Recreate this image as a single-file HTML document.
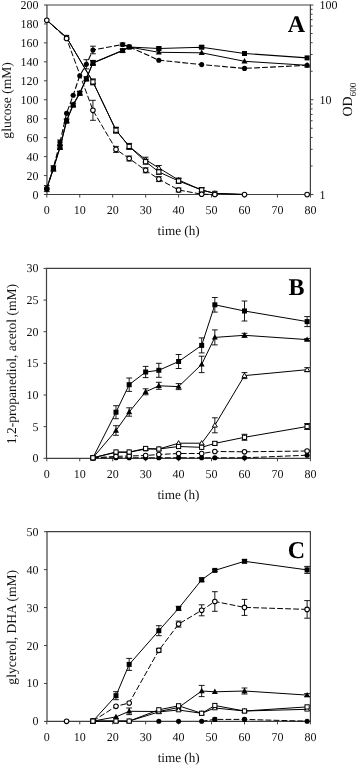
<!DOCTYPE html>
<html><head><meta charset="utf-8"><title>Figure</title>
<style>
html,body{margin:0;padding:0;background:#fff;}
svg{display:block;will-change:transform;}
text{font-family:"Liberation Serif",serif;fill:#111;text-rendering:geometricPrecision;}
.tk{font-size:12px;}
.al{font-size:13.55px;}
.lt{font-size:24px;font-weight:bold;fill:#000;}
</style></head>
<body>
<svg width="358" height="766" viewBox="0 0 358 766">
<rect width="358" height="766" fill="#fff"/>
<path d="M46.35 5H310.4V194.5H46.95V5" fill="none" stroke="#404040" stroke-width="1.2"/>
<path d="M46.8 194.5v3" stroke="#404040" stroke-width="1"/>
<text x="46.8" y="213.8" text-anchor="middle" class="tk">0</text>
<path d="M79.75 194.5v3" stroke="#404040" stroke-width="1"/>
<text x="79.75" y="213.8" text-anchor="middle" class="tk">10</text>
<path d="M112.7 194.5v3" stroke="#404040" stroke-width="1"/>
<text x="112.7" y="213.8" text-anchor="middle" class="tk">20</text>
<path d="M145.65 194.5v3" stroke="#404040" stroke-width="1"/>
<text x="145.65" y="213.8" text-anchor="middle" class="tk">30</text>
<path d="M178.6 194.5v3" stroke="#404040" stroke-width="1"/>
<text x="178.6" y="213.8" text-anchor="middle" class="tk">40</text>
<path d="M211.55 194.5v3" stroke="#404040" stroke-width="1"/>
<text x="211.55" y="213.8" text-anchor="middle" class="tk">50</text>
<path d="M244.5 194.5v3" stroke="#404040" stroke-width="1"/>
<text x="244.5" y="213.8" text-anchor="middle" class="tk">60</text>
<path d="M277.45 194.5v3" stroke="#404040" stroke-width="1"/>
<text x="277.45" y="213.8" text-anchor="middle" class="tk">70</text>
<path d="M310.4 194.5v3" stroke="#404040" stroke-width="1"/>
<text x="310.4" y="213.8" text-anchor="middle" class="tk">80</text>
<path d="M46.95 194.5h-3" stroke="#404040" stroke-width="1"/>
<text x="38.599999999999994" y="198.5" text-anchor="end" class="tk">0</text>
<path d="M46.95 175.55h-3" stroke="#404040" stroke-width="1"/>
<text x="38.599999999999994" y="179.55" text-anchor="end" class="tk">20</text>
<path d="M46.95 156.6h-3" stroke="#404040" stroke-width="1"/>
<text x="38.599999999999994" y="160.6" text-anchor="end" class="tk">40</text>
<path d="M46.95 137.65h-3" stroke="#404040" stroke-width="1"/>
<text x="38.599999999999994" y="141.65" text-anchor="end" class="tk">60</text>
<path d="M46.95 118.7h-3" stroke="#404040" stroke-width="1"/>
<text x="38.599999999999994" y="122.7" text-anchor="end" class="tk">80</text>
<path d="M46.95 99.75h-3" stroke="#404040" stroke-width="1"/>
<text x="38.599999999999994" y="103.75" text-anchor="end" class="tk">100</text>
<path d="M46.95 80.8h-3" stroke="#404040" stroke-width="1"/>
<text x="38.599999999999994" y="84.8" text-anchor="end" class="tk">120</text>
<path d="M46.95 61.849999999999994h-3" stroke="#404040" stroke-width="1"/>
<text x="38.599999999999994" y="65.85" text-anchor="end" class="tk">140</text>
<path d="M46.95 42.900000000000006h-3" stroke="#404040" stroke-width="1"/>
<text x="38.599999999999994" y="46.900000000000006" text-anchor="end" class="tk">160</text>
<path d="M46.95 23.94999999999999h-3" stroke="#404040" stroke-width="1"/>
<text x="38.599999999999994" y="27.94999999999999" text-anchor="end" class="tk">180</text>
<path d="M46.95 5.0h-3" stroke="#404040" stroke-width="1"/>
<text x="38.599999999999994" y="9.0" text-anchor="end" class="tk">200</text>
<path d="M310.4 194.5h3" stroke="#404040" stroke-width="1"/>
<text x="319.4" y="198.5" text-anchor="start" class="tk">1</text>
<path d="M310.4 99.75h3" stroke="#404040" stroke-width="1"/>
<text x="319.4" y="103.75" text-anchor="start" class="tk">10</text>
<path d="M310.4 5h3" stroke="#404040" stroke-width="1"/>
<text x="319.4" y="9" text-anchor="start" class="tk">100</text>
<path d="M310.4 165.98h2.2" stroke="#404040" stroke-width="1"/>
<path d="M310.4 149.29h2.2" stroke="#404040" stroke-width="1"/>
<path d="M310.4 137.45h2.2" stroke="#404040" stroke-width="1"/>
<path d="M310.4 128.27h2.2" stroke="#404040" stroke-width="1"/>
<path d="M310.4 120.77h2.2" stroke="#404040" stroke-width="1"/>
<path d="M310.4 114.43h2.2" stroke="#404040" stroke-width="1"/>
<path d="M310.4 108.93h2.2" stroke="#404040" stroke-width="1"/>
<path d="M310.4 104.09h2.2" stroke="#404040" stroke-width="1"/>
<path d="M310.4 71.23h2.2" stroke="#404040" stroke-width="1"/>
<path d="M310.4 54.54h2.2" stroke="#404040" stroke-width="1"/>
<path d="M310.4 42.70h2.2" stroke="#404040" stroke-width="1"/>
<path d="M310.4 33.52h2.2" stroke="#404040" stroke-width="1"/>
<path d="M310.4 26.02h2.2" stroke="#404040" stroke-width="1"/>
<path d="M310.4 19.68h2.2" stroke="#404040" stroke-width="1"/>
<path d="M310.4 14.18h2.2" stroke="#404040" stroke-width="1"/>
<path d="M310.4 9.34h2.2" stroke="#404040" stroke-width="1"/>
<text transform="translate(10.7 100.45) rotate(-90)" text-anchor="middle" class="al">glucose (mM)</text>
<text x="178.67499999999998" y="235.1" text-anchor="middle" class="al" style="font-size:13.2px">time (h)</text>
<text x="296.5" y="31.5" text-anchor="middle" class="lt">A</text>
<text transform="translate(351.8 99.6) rotate(-90)" text-anchor="middle" class="al" style="font-size:14px">OD<tspan dy="4" style="font-size:9.2px">600</tspan></text>
<polyline points="46.8,20.2 66.57,37.5 92.93,81.9 115.99,130.2 129.18,146.4 145.65,159.7 158.83,168 178.6,180 201.67,190 214.84,193.4 244.5,194.5" fill="none" stroke="#000" stroke-width="1.0"/>
<path d="M92.93 79.9V83.9M90.03 79.9H95.83000000000001M90.03 83.9H95.83000000000001" stroke="#000" stroke-width="0.9" fill="none"/>
<path d="M115.99 127.69999999999999V132.7M113.08999999999999 127.69999999999999H118.89M113.08999999999999 132.7H118.89" stroke="#000" stroke-width="0.9" fill="none"/>
<path d="M129.18 143.9V148.9M126.28 143.9H132.08M126.28 148.9H132.08" stroke="#000" stroke-width="0.9" fill="none"/>
<path d="M145.65 157.2V162.2M142.75 157.2H148.55M142.75 162.2H148.55" stroke="#000" stroke-width="0.9" fill="none"/>
<path d="M158.83 165.5V170.5M155.93 165.5H161.73000000000002M155.93 170.5H161.73000000000002" stroke="#000" stroke-width="0.9" fill="none"/>
<path d="M178.6 178V182M175.7 178H181.5M175.7 182H181.5" stroke="#000" stroke-width="0.9" fill="none"/>
<path d="M201.67 188V192M198.76999999999998 188H204.57M198.76999999999998 192H204.57" stroke="#000" stroke-width="0.9" fill="none"/>
<path d="M66.57 34.90L69.07 39.30H64.07Z" fill="#fff" stroke="#000" stroke-width="0.95"/>
<path d="M92.93 79.30L95.43 83.70H90.43Z" fill="#fff" stroke="#000" stroke-width="0.95"/>
<path d="M115.99 127.60L118.49 132.00H113.49Z" fill="#fff" stroke="#000" stroke-width="0.95"/>
<path d="M129.18 143.80L131.68 148.20H126.68Z" fill="#fff" stroke="#000" stroke-width="0.95"/>
<path d="M145.65 157.10L148.15 161.50H143.15Z" fill="#fff" stroke="#000" stroke-width="0.95"/>
<path d="M158.83 165.40L161.33 169.80H156.33Z" fill="#fff" stroke="#000" stroke-width="0.95"/>
<path d="M178.6 177.40L181.10 181.80H176.10Z" fill="#fff" stroke="#000" stroke-width="0.95"/>
<path d="M201.67 187.40L204.17 191.80H199.17Z" fill="#fff" stroke="#000" stroke-width="0.95"/>
<path d="M214.84 190.80L217.34 195.20H212.34Z" fill="#fff" stroke="#000" stroke-width="0.95"/>
<polyline points="46.8,20.2 66.57,37.5 92.93,81.9 115.99,130.2 129.18,146.4 145.65,161.7 158.83,171.9 178.6,181 201.67,190 214.84,193.4 244.5,194.5" fill="none" stroke="#000" stroke-width="1.0"/>
<path d="M92.93 78.9V84.9M90.03 78.9H95.83000000000001M90.03 84.9H95.83000000000001" stroke="#000" stroke-width="0.9" fill="none"/>
<path d="M115.99 127.19999999999999V133.2M113.08999999999999 127.19999999999999H118.89M113.08999999999999 133.2H118.89" stroke="#000" stroke-width="0.9" fill="none"/>
<path d="M129.18 143.4V149.4M126.28 143.4H132.08M126.28 149.4H132.08" stroke="#000" stroke-width="0.9" fill="none"/>
<path d="M145.65 159.2V164.2M142.75 159.2H148.55M142.75 164.2H148.55" stroke="#000" stroke-width="0.9" fill="none"/>
<path d="M158.83 169.4V174.4M155.93 169.4H161.73000000000002M155.93 174.4H161.73000000000002" stroke="#000" stroke-width="0.9" fill="none"/>
<path d="M178.6 178.5V183.5M175.7 178.5H181.5M175.7 183.5H181.5" stroke="#000" stroke-width="0.9" fill="none"/>
<path d="M201.67 187.5V192.5M198.76999999999998 187.5H204.57M198.76999999999998 192.5H204.57" stroke="#000" stroke-width="0.9" fill="none"/>
<rect x="64.47" y="35.40" width="4.20" height="4.20" fill="#fff" stroke="#000" stroke-width="1"/>
<rect x="90.83" y="79.80" width="4.20" height="4.20" fill="#fff" stroke="#000" stroke-width="1"/>
<rect x="113.89" y="128.10" width="4.20" height="4.20" fill="#fff" stroke="#000" stroke-width="1"/>
<rect x="127.08" y="144.30" width="4.20" height="4.20" fill="#fff" stroke="#000" stroke-width="1"/>
<rect x="143.55" y="159.60" width="4.20" height="4.20" fill="#fff" stroke="#000" stroke-width="1"/>
<rect x="156.73" y="169.80" width="4.20" height="4.20" fill="#fff" stroke="#000" stroke-width="1"/>
<rect x="176.50" y="178.90" width="4.20" height="4.20" fill="#fff" stroke="#000" stroke-width="1"/>
<rect x="199.57" y="187.90" width="4.20" height="4.20" fill="#fff" stroke="#000" stroke-width="1"/>
<rect x="212.74" y="191.30" width="4.20" height="4.20" fill="#fff" stroke="#000" stroke-width="1"/>
<polyline points="46.8,20.2 66.57,38.5 92.93,110.3 115.99,149.4 129.18,158.5 145.65,170.3 158.83,179.1 178.6,190 201.67,194.2 214.84,194.5" fill="none" stroke="#000" stroke-width="1.0" stroke-dasharray="5.8 2.2"/>
<path d="M92.93 100.3V120.3M90.03 100.3H95.83000000000001M90.03 120.3H95.83000000000001" stroke="#000" stroke-width="0.9" fill="none"/>
<path d="M115.99 146.4V152.4M113.08999999999999 146.4H118.89M113.08999999999999 152.4H118.89" stroke="#000" stroke-width="0.9" fill="none"/>
<path d="M129.18 156.0V161.0M126.28 156.0H132.08M126.28 161.0H132.08" stroke="#000" stroke-width="0.9" fill="none"/>
<path d="M145.65 167.8V172.8M142.75 167.8H148.55M142.75 172.8H148.55" stroke="#000" stroke-width="0.9" fill="none"/>
<path d="M158.83 176.6V181.6M155.93 176.6H161.73000000000002M155.93 181.6H161.73000000000002" stroke="#000" stroke-width="0.9" fill="none"/>
<path d="M178.6 188V192M175.7 188H181.5M175.7 192H181.5" stroke="#000" stroke-width="0.9" fill="none"/>
<circle cx="46.8" cy="20.2" r="2.30" fill="#fff" stroke="#000" stroke-width="1.05"/>
<circle cx="66.57" cy="38.5" r="2.30" fill="#fff" stroke="#000" stroke-width="1.05"/>
<circle cx="92.93" cy="110.3" r="2.30" fill="#fff" stroke="#000" stroke-width="1.05"/>
<circle cx="115.99" cy="149.4" r="2.30" fill="#fff" stroke="#000" stroke-width="1.05"/>
<circle cx="129.18" cy="158.5" r="2.30" fill="#fff" stroke="#000" stroke-width="1.05"/>
<circle cx="145.65" cy="170.3" r="2.30" fill="#fff" stroke="#000" stroke-width="1.05"/>
<circle cx="158.83" cy="179.1" r="2.30" fill="#fff" stroke="#000" stroke-width="1.05"/>
<circle cx="178.6" cy="190" r="2.30" fill="#fff" stroke="#000" stroke-width="1.05"/>
<circle cx="201.67" cy="194.2" r="2.30" fill="#fff" stroke="#000" stroke-width="1.05"/>
<circle cx="214.84" cy="194.5" r="2.30" fill="#fff" stroke="#000" stroke-width="1.05"/>
<circle cx="244.5" cy="194.6" r="2.30" fill="#fff" stroke="#000" stroke-width="1.05"/>
<circle cx="307.11" cy="194.6" r="2.30" fill="#fff" stroke="#000" stroke-width="1.05"/>
<polyline points="46.8,188.3 53.39,168.3 59.98,147 66.57,120.5 73.16,104.5 79.75,93 86.34,78.5 92.93,62.9 122.58,50.6 129.18,47 158.83,52.3 201.67,52.8 244.5,61.3 307.11,65.3" fill="none" stroke="#000" stroke-width="1.0"/>
<path d="M92.93 60.9V64.9M90.03 60.9H95.83000000000001M90.03 64.9H95.83000000000001" stroke="#000" stroke-width="0.9" fill="none"/>
<path d="M53.39 165.10L56.39 170.50H50.39Z" fill="#000"/>
<path d="M59.98 143.80L62.98 149.20H56.98Z" fill="#000"/>
<path d="M66.57 117.30L69.57 122.70H63.57Z" fill="#000"/>
<path d="M73.16 101.30L76.16 106.70H70.16Z" fill="#000"/>
<path d="M79.75 89.80L82.75 95.20H76.75Z" fill="#000"/>
<path d="M86.34 75.30L89.34 80.70H83.34Z" fill="#000"/>
<path d="M92.93 59.70L95.93 65.10H89.93Z" fill="#000"/>
<path d="M122.58 47.40L125.58 52.80H119.58Z" fill="#000"/>
<path d="M129.18 43.80L132.18 49.20H126.18Z" fill="#000"/>
<path d="M158.83 49.10L161.83 54.50H155.83Z" fill="#000"/>
<path d="M201.67 49.60L204.67 55.00H198.67Z" fill="#000"/>
<path d="M244.5 58.10L247.50 63.50H241.50Z" fill="#000"/>
<path d="M307.11 62.10L310.11 67.50H304.11Z" fill="#000"/>
<polyline points="46.8,188.3 53.39,168.5 59.98,147.5 66.57,121 73.16,105 79.75,93.3 86.34,78.9 92.93,62.9 122.58,50.6 129.18,47 158.83,48.5 201.67,47.2 244.5,53.5 307.11,57.9" fill="none" stroke="#000" stroke-width="1.1"/>
<path d="M53.39 165.7V171.3M50.49 165.7H56.29M50.49 171.3H56.29" stroke="#000" stroke-width="0.9" fill="none"/>
<path d="M59.98 145.5V149.5M57.08 145.5H62.879999999999995M57.08 149.5H62.879999999999995" stroke="#000" stroke-width="0.9" fill="none"/>
<path d="M66.57 119V123M63.669999999999995 119H69.47M63.669999999999995 123H69.47" stroke="#000" stroke-width="0.9" fill="none"/>
<path d="M73.16 103V107M70.25999999999999 103H76.06M70.25999999999999 107H76.06" stroke="#000" stroke-width="0.9" fill="none"/>
<path d="M79.75 91.3V95.3M76.85 91.3H82.65M76.85 95.3H82.65" stroke="#000" stroke-width="0.9" fill="none"/>
<path d="M86.34 76.9V80.9M83.44 76.9H89.24000000000001M83.44 80.9H89.24000000000001" stroke="#000" stroke-width="0.9" fill="none"/>
<path d="M92.93 60.4V65.4M90.03 60.4H95.83000000000001M90.03 65.4H95.83000000000001" stroke="#000" stroke-width="0.9" fill="none"/>
<path d="M122.58 49.1V52.1M119.67999999999999 49.1H125.48M119.67999999999999 52.1H125.48" stroke="#000" stroke-width="0.9" fill="none"/>
<path d="M158.83 47.0V50.0M155.93 47.0H161.73000000000002M155.93 50.0H161.73000000000002" stroke="#000" stroke-width="0.9" fill="none"/>
<path d="M201.67 45.7V48.7M198.76999999999998 45.7H204.57M198.76999999999998 48.7H204.57" stroke="#000" stroke-width="0.9" fill="none"/>
<rect x="50.89" y="166.00" width="5.00" height="5.00" fill="#000"/>
<rect x="57.48" y="145.00" width="5.00" height="5.00" fill="#000"/>
<rect x="64.07" y="118.50" width="5.00" height="5.00" fill="#000"/>
<rect x="70.66" y="102.50" width="5.00" height="5.00" fill="#000"/>
<rect x="77.25" y="90.80" width="5.00" height="5.00" fill="#000"/>
<rect x="83.84" y="76.40" width="5.00" height="5.00" fill="#000"/>
<rect x="90.43" y="60.40" width="5.00" height="5.00" fill="#000"/>
<rect x="120.08" y="48.10" width="5.00" height="5.00" fill="#000"/>
<rect x="126.68" y="44.50" width="5.00" height="5.00" fill="#000"/>
<rect x="156.33" y="46.00" width="5.00" height="5.00" fill="#000"/>
<rect x="199.17" y="44.70" width="5.00" height="5.00" fill="#000"/>
<rect x="242.00" y="51.00" width="5.00" height="5.00" fill="#000"/>
<rect x="304.61" y="55.40" width="5.00" height="5.00" fill="#000"/>
<polyline points="46.8,188.6 53.39,168 59.98,142.3 66.57,113.3 73.16,95.3 79.75,75.7 86.34,64.3 92.93,50 122.58,44.5 129.18,46.8 158.83,60.2 201.67,64.6 244.5,68.4 307.11,65.3" fill="none" stroke="#000" stroke-width="1.1" stroke-dasharray="5.8 2.2"/>
<path d="M46.8 185.6V191.6M43.9 185.6H49.699999999999996M43.9 191.6H49.699999999999996" stroke="#000" stroke-width="0.9" fill="none"/>
<path d="M59.98 140.0V144.60000000000002M57.08 140.0H62.879999999999995M57.08 144.60000000000002H62.879999999999995" stroke="#000" stroke-width="0.9" fill="none"/>
<path d="M86.34 59.699999999999996V68.89999999999999M83.44 59.699999999999996H89.24000000000001M83.44 68.89999999999999H89.24000000000001" stroke="#000" stroke-width="0.9" fill="none"/>
<path d="M92.93 46.2V53.8M90.03 46.2H95.83000000000001M90.03 53.8H95.83000000000001" stroke="#000" stroke-width="0.9" fill="none"/>
<path d="M122.58 43.0V46.0M119.67999999999999 43.0H125.48M119.67999999999999 46.0H125.48" stroke="#000" stroke-width="0.9" fill="none"/>
<circle cx="46.8" cy="188.6" r="2.55" fill="#000"/>
<circle cx="53.39" cy="168" r="2.55" fill="#000"/>
<circle cx="59.98" cy="142.3" r="2.55" fill="#000"/>
<circle cx="66.57" cy="113.3" r="2.55" fill="#000"/>
<circle cx="73.16" cy="95.3" r="2.55" fill="#000"/>
<circle cx="79.75" cy="75.7" r="2.55" fill="#000"/>
<circle cx="86.34" cy="64.3" r="2.55" fill="#000"/>
<circle cx="92.93" cy="50" r="2.55" fill="#000"/>
<circle cx="122.58" cy="44.5" r="2.55" fill="#000"/>
<circle cx="129.18" cy="46.8" r="2.55" fill="#000"/>
<circle cx="158.83" cy="60.2" r="2.55" fill="#000"/>
<circle cx="201.67" cy="64.6" r="2.55" fill="#000"/>
<circle cx="244.5" cy="68.4" r="2.55" fill="#000"/>
<circle cx="307.11" cy="65.3" r="2.55" fill="#000"/>
<circle cx="46.8" cy="188.8" r="2.9" fill="#000"/>
<path d="M45.9 268.4H310.4V458.3H46.5V268.4" fill="none" stroke="#404040" stroke-width="1.2"/>
<path d="M46.8 458.3v3" stroke="#404040" stroke-width="1"/>
<text x="46.8" y="477.6" text-anchor="middle" class="tk">0</text>
<path d="M79.75 458.3v3" stroke="#404040" stroke-width="1"/>
<text x="79.75" y="477.6" text-anchor="middle" class="tk">10</text>
<path d="M112.7 458.3v3" stroke="#404040" stroke-width="1"/>
<text x="112.7" y="477.6" text-anchor="middle" class="tk">20</text>
<path d="M145.65 458.3v3" stroke="#404040" stroke-width="1"/>
<text x="145.65" y="477.6" text-anchor="middle" class="tk">30</text>
<path d="M178.6 458.3v3" stroke="#404040" stroke-width="1"/>
<text x="178.6" y="477.6" text-anchor="middle" class="tk">40</text>
<path d="M211.55 458.3v3" stroke="#404040" stroke-width="1"/>
<text x="211.55" y="477.6" text-anchor="middle" class="tk">50</text>
<path d="M244.5 458.3v3" stroke="#404040" stroke-width="1"/>
<text x="244.5" y="477.6" text-anchor="middle" class="tk">60</text>
<path d="M277.45 458.3v3" stroke="#404040" stroke-width="1"/>
<text x="277.45" y="477.6" text-anchor="middle" class="tk">70</text>
<path d="M310.4 458.3v3" stroke="#404040" stroke-width="1"/>
<text x="310.4" y="477.6" text-anchor="middle" class="tk">80</text>
<path d="M46.5 458.3h-3" stroke="#404040" stroke-width="1"/>
<text x="38.599999999999994" y="462.3" text-anchor="end" class="tk">0</text>
<path d="M46.5 426.65000000000003h-3" stroke="#404040" stroke-width="1"/>
<text x="38.599999999999994" y="430.65000000000003" text-anchor="end" class="tk">5</text>
<path d="M46.5 395.0h-3" stroke="#404040" stroke-width="1"/>
<text x="38.599999999999994" y="399.0" text-anchor="end" class="tk">10</text>
<path d="M46.5 363.35h-3" stroke="#404040" stroke-width="1"/>
<text x="38.599999999999994" y="367.35" text-anchor="end" class="tk">15</text>
<path d="M46.5 331.70000000000005h-3" stroke="#404040" stroke-width="1"/>
<text x="38.599999999999994" y="335.70000000000005" text-anchor="end" class="tk">20</text>
<path d="M46.5 300.05h-3" stroke="#404040" stroke-width="1"/>
<text x="38.599999999999994" y="304.05" text-anchor="end" class="tk">25</text>
<path d="M46.5 268.4h-3" stroke="#404040" stroke-width="1"/>
<text x="38.599999999999994" y="272.4" text-anchor="end" class="tk">30</text>
<text transform="translate(16.3 364.05) rotate(-90)" text-anchor="middle" class="al">1,2-propanediol, acetol (mM)</text>
<text x="178.45" y="498.90000000000003" text-anchor="middle" class="al" style="font-size:13.2px">time (h)</text>
<text x="296.5" y="294.9" text-anchor="middle" class="lt">B</text>
<polyline points="92.93,457.8 115.99,457.8 129.18,457.8 145.65,457.8 158.83,457.8 178.6,457.8 201.67,457.8 214.84,457.8 244.5,457.8 307.11,455.2" fill="none" stroke="#000" stroke-width="1.0" stroke-dasharray="5.8 2.2"/>
<circle cx="92.93" cy="457.8" r="2.55" fill="#000"/>
<circle cx="115.99" cy="457.8" r="2.55" fill="#000"/>
<circle cx="129.18" cy="457.8" r="2.55" fill="#000"/>
<circle cx="145.65" cy="457.8" r="2.55" fill="#000"/>
<circle cx="158.83" cy="457.8" r="2.55" fill="#000"/>
<circle cx="178.6" cy="457.8" r="2.55" fill="#000"/>
<circle cx="201.67" cy="457.8" r="2.55" fill="#000"/>
<circle cx="214.84" cy="457.8" r="2.55" fill="#000"/>
<circle cx="244.5" cy="457.8" r="2.55" fill="#000"/>
<circle cx="307.11" cy="455.2" r="2.55" fill="#000"/>
<polyline points="92.93,457.8 115.99,456.4 129.18,456 145.65,455.5 158.83,454.5 178.6,453.5 201.67,453.5 214.84,451.5 244.5,451.8 307.11,451" fill="none" stroke="#000" stroke-width="1.0" stroke-dasharray="5.8 2.2"/>
<circle cx="92.93" cy="457.8" r="2.30" fill="#fff" stroke="#000" stroke-width="1.05"/>
<circle cx="115.99" cy="456.4" r="2.30" fill="#fff" stroke="#000" stroke-width="1.05"/>
<circle cx="129.18" cy="456" r="2.30" fill="#fff" stroke="#000" stroke-width="1.05"/>
<circle cx="145.65" cy="455.5" r="2.30" fill="#fff" stroke="#000" stroke-width="1.05"/>
<circle cx="158.83" cy="454.5" r="2.30" fill="#fff" stroke="#000" stroke-width="1.05"/>
<circle cx="178.6" cy="453.5" r="2.30" fill="#fff" stroke="#000" stroke-width="1.05"/>
<circle cx="201.67" cy="453.5" r="2.30" fill="#fff" stroke="#000" stroke-width="1.05"/>
<circle cx="214.84" cy="451.5" r="2.30" fill="#fff" stroke="#000" stroke-width="1.05"/>
<circle cx="244.5" cy="451.8" r="2.30" fill="#fff" stroke="#000" stroke-width="1.05"/>
<circle cx="307.11" cy="451" r="2.30" fill="#fff" stroke="#000" stroke-width="1.05"/>
<polyline points="92.93,457.8 115.99,452.3 129.18,452.3 145.65,449 158.83,449 178.6,443.2 201.67,443.2 214.84,425.3 244.5,375.6 307.11,369.7" fill="none" stroke="#000" stroke-width="1.0"/>
<path d="M214.84 417.8V432.8M211.94 417.8H217.74M211.94 432.8H217.74" stroke="#000" stroke-width="0.9" fill="none"/>
<path d="M244.5 372.6V378.6M241.6 372.6H247.4M241.6 378.6H247.4" stroke="#000" stroke-width="0.9" fill="none"/>
<path d="M307.11 367.7V371.7M304.21000000000004 367.7H310.01M304.21000000000004 371.7H310.01" stroke="#000" stroke-width="0.9" fill="none"/>
<path d="M92.93 455.20L95.43 459.60H90.43Z" fill="#fff" stroke="#000" stroke-width="0.95"/>
<path d="M115.99 449.70L118.49 454.10H113.49Z" fill="#fff" stroke="#000" stroke-width="0.95"/>
<path d="M129.18 449.70L131.68 454.10H126.68Z" fill="#fff" stroke="#000" stroke-width="0.95"/>
<path d="M145.65 446.40L148.15 450.80H143.15Z" fill="#fff" stroke="#000" stroke-width="0.95"/>
<path d="M158.83 446.40L161.33 450.80H156.33Z" fill="#fff" stroke="#000" stroke-width="0.95"/>
<path d="M178.6 440.60L181.10 445.00H176.10Z" fill="#fff" stroke="#000" stroke-width="0.95"/>
<path d="M201.67 440.60L204.17 445.00H199.17Z" fill="#fff" stroke="#000" stroke-width="0.95"/>
<path d="M214.84 422.70L217.34 427.10H212.34Z" fill="#fff" stroke="#000" stroke-width="0.95"/>
<path d="M244.5 373.00L247.00 377.40H242.00Z" fill="#fff" stroke="#000" stroke-width="0.95"/>
<path d="M307.11 367.10L309.61 371.50H304.61Z" fill="#fff" stroke="#000" stroke-width="0.95"/>
<polyline points="92.93,457.8 115.99,452 129.18,452 145.65,448.5 158.83,449 178.6,446.5 201.67,447.3 214.84,443.4 244.5,437.3 307.11,426.5" fill="none" stroke="#000" stroke-width="1.0"/>
<path d="M214.84 441.9V444.9M211.94 441.9H217.74M211.94 444.9H217.74" stroke="#000" stroke-width="0.9" fill="none"/>
<path d="M244.5 434.3V440.3M241.6 434.3H247.4M241.6 440.3H247.4" stroke="#000" stroke-width="0.9" fill="none"/>
<path d="M307.11 423.5V429.5M304.21000000000004 423.5H310.01M304.21000000000004 429.5H310.01" stroke="#000" stroke-width="0.9" fill="none"/>
<rect x="90.83" y="455.70" width="4.20" height="4.20" fill="#fff" stroke="#000" stroke-width="1"/>
<rect x="113.89" y="449.90" width="4.20" height="4.20" fill="#fff" stroke="#000" stroke-width="1"/>
<rect x="127.08" y="449.90" width="4.20" height="4.20" fill="#fff" stroke="#000" stroke-width="1"/>
<rect x="143.55" y="446.40" width="4.20" height="4.20" fill="#fff" stroke="#000" stroke-width="1"/>
<rect x="156.73" y="446.90" width="4.20" height="4.20" fill="#fff" stroke="#000" stroke-width="1"/>
<rect x="176.50" y="444.40" width="4.20" height="4.20" fill="#fff" stroke="#000" stroke-width="1"/>
<rect x="199.57" y="445.20" width="4.20" height="4.20" fill="#fff" stroke="#000" stroke-width="1"/>
<rect x="212.74" y="441.30" width="4.20" height="4.20" fill="#fff" stroke="#000" stroke-width="1"/>
<rect x="242.40" y="435.20" width="4.20" height="4.20" fill="#fff" stroke="#000" stroke-width="1"/>
<rect x="305.01" y="424.40" width="4.20" height="4.20" fill="#fff" stroke="#000" stroke-width="1"/>
<polyline points="92.93,457.8 115.99,430.5 129.18,412 145.65,391.8 158.83,385.8 178.6,386.6 201.67,364.4 214.84,337.4 244.5,335.3 307.11,339.6" fill="none" stroke="#000" stroke-width="1.0"/>
<path d="M115.99 425.7V435.3M113.08999999999999 425.7H118.89M113.08999999999999 435.3H118.89" stroke="#000" stroke-width="0.9" fill="none"/>
<path d="M129.18 407.8V416.2M126.28 407.8H132.08M126.28 416.2H132.08" stroke="#000" stroke-width="0.9" fill="none"/>
<path d="M145.65 388.8V394.8M142.75 388.8H148.55M142.75 394.8H148.55" stroke="#000" stroke-width="0.9" fill="none"/>
<path d="M158.83 382.3V389.3M155.93 382.3H161.73000000000002M155.93 389.3H161.73000000000002" stroke="#000" stroke-width="0.9" fill="none"/>
<path d="M178.6 383.6V389.6M175.7 383.6H181.5M175.7 389.6H181.5" stroke="#000" stroke-width="0.9" fill="none"/>
<path d="M201.67 356.2V372.59999999999997M198.76999999999998 356.2H204.57M198.76999999999998 372.59999999999997H204.57" stroke="#000" stroke-width="0.9" fill="none"/>
<path d="M214.84 329.9V344.9M211.94 329.9H217.74M211.94 344.9H217.74" stroke="#000" stroke-width="0.9" fill="none"/>
<path d="M244.5 333.3V337.3M241.6 333.3H247.4M241.6 337.3H247.4" stroke="#000" stroke-width="0.9" fill="none"/>
<path d="M307.11 338.6V340.6M304.21000000000004 338.6H310.01M304.21000000000004 340.6H310.01" stroke="#000" stroke-width="0.9" fill="none"/>
<path d="M92.93 454.60L95.93 460.00H89.93Z" fill="#000"/>
<path d="M115.99 427.30L118.99 432.70H112.99Z" fill="#000"/>
<path d="M129.18 408.80L132.18 414.20H126.18Z" fill="#000"/>
<path d="M145.65 388.60L148.65 394.00H142.65Z" fill="#000"/>
<path d="M158.83 382.60L161.83 388.00H155.83Z" fill="#000"/>
<path d="M178.6 383.40L181.60 388.80H175.60Z" fill="#000"/>
<path d="M201.67 361.20L204.67 366.60H198.67Z" fill="#000"/>
<path d="M214.84 334.20L217.84 339.60H211.84Z" fill="#000"/>
<path d="M244.5 332.10L247.50 337.50H241.50Z" fill="#000"/>
<path d="M307.11 336.40L310.11 341.80H304.11Z" fill="#000"/>
<polyline points="92.93,457.8 115.99,412.2 129.18,384.7 145.65,372 158.83,370.3 178.6,361.5 201.67,345.4 214.84,304.8 244.5,311 307.11,321.6" fill="none" stroke="#000" stroke-width="1.0"/>
<path d="M115.99 405.7V418.7M113.08999999999999 405.7H118.89M113.08999999999999 418.7H118.89" stroke="#000" stroke-width="0.9" fill="none"/>
<path d="M129.18 378.0V391.4M126.28 378.0H132.08M126.28 391.4H132.08" stroke="#000" stroke-width="0.9" fill="none"/>
<path d="M145.65 366.4V377.6M142.75 366.4H148.55M142.75 377.6H148.55" stroke="#000" stroke-width="0.9" fill="none"/>
<path d="M158.83 363.3V377.3M155.93 363.3H161.73000000000002M155.93 377.3H161.73000000000002" stroke="#000" stroke-width="0.9" fill="none"/>
<path d="M178.6 354.5V368.5M175.7 354.5H181.5M175.7 368.5H181.5" stroke="#000" stroke-width="0.9" fill="none"/>
<path d="M201.67 337.9V352.9M198.76999999999998 337.9H204.57M198.76999999999998 352.9H204.57" stroke="#000" stroke-width="0.9" fill="none"/>
<path d="M214.84 297.5V312.1M211.94 297.5H217.74M211.94 312.1H217.74" stroke="#000" stroke-width="0.9" fill="none"/>
<path d="M244.5 301V321M241.6 301H247.4M241.6 321H247.4" stroke="#000" stroke-width="0.9" fill="none"/>
<path d="M307.11 316.6V326.6M304.21000000000004 316.6H310.01M304.21000000000004 326.6H310.01" stroke="#000" stroke-width="0.9" fill="none"/>
<rect x="90.43" y="455.30" width="5.00" height="5.00" fill="#000"/>
<rect x="113.49" y="409.70" width="5.00" height="5.00" fill="#000"/>
<rect x="126.68" y="382.20" width="5.00" height="5.00" fill="#000"/>
<rect x="143.15" y="369.50" width="5.00" height="5.00" fill="#000"/>
<rect x="156.33" y="367.80" width="5.00" height="5.00" fill="#000"/>
<rect x="176.10" y="359.00" width="5.00" height="5.00" fill="#000"/>
<rect x="199.17" y="342.90" width="5.00" height="5.00" fill="#000"/>
<rect x="212.34" y="302.30" width="5.00" height="5.00" fill="#000"/>
<rect x="242.00" y="308.50" width="5.00" height="5.00" fill="#000"/>
<rect x="304.61" y="319.10" width="5.00" height="5.00" fill="#000"/>
<rect x="90.83" y="455.70" width="4.20" height="4.20" fill="#fff" stroke="#000" stroke-width="1"/>
<path d="M46.4 531.7H310.4V721.4H47.0V531.7" fill="none" stroke="#404040" stroke-width="1.2"/>
<path d="M46.8 721.4v3" stroke="#404040" stroke-width="1"/>
<text x="46.8" y="740.6999999999999" text-anchor="middle" class="tk">0</text>
<path d="M79.75 721.4v3" stroke="#404040" stroke-width="1"/>
<text x="79.75" y="740.6999999999999" text-anchor="middle" class="tk">10</text>
<path d="M112.7 721.4v3" stroke="#404040" stroke-width="1"/>
<text x="112.7" y="740.6999999999999" text-anchor="middle" class="tk">20</text>
<path d="M145.65 721.4v3" stroke="#404040" stroke-width="1"/>
<text x="145.65" y="740.6999999999999" text-anchor="middle" class="tk">30</text>
<path d="M178.6 721.4v3" stroke="#404040" stroke-width="1"/>
<text x="178.6" y="740.6999999999999" text-anchor="middle" class="tk">40</text>
<path d="M211.55 721.4v3" stroke="#404040" stroke-width="1"/>
<text x="211.55" y="740.6999999999999" text-anchor="middle" class="tk">50</text>
<path d="M244.5 721.4v3" stroke="#404040" stroke-width="1"/>
<text x="244.5" y="740.6999999999999" text-anchor="middle" class="tk">60</text>
<path d="M277.45 721.4v3" stroke="#404040" stroke-width="1"/>
<text x="277.45" y="740.6999999999999" text-anchor="middle" class="tk">70</text>
<path d="M310.4 721.4v3" stroke="#404040" stroke-width="1"/>
<text x="310.4" y="740.6999999999999" text-anchor="middle" class="tk">80</text>
<path d="M47.0 721.4h-3" stroke="#404040" stroke-width="1"/>
<text x="38.599999999999994" y="725.4" text-anchor="end" class="tk">0</text>
<path d="M47.0 683.46h-3" stroke="#404040" stroke-width="1"/>
<text x="38.599999999999994" y="687.46" text-anchor="end" class="tk">10</text>
<path d="M47.0 645.52h-3" stroke="#404040" stroke-width="1"/>
<text x="38.599999999999994" y="649.52" text-anchor="end" class="tk">20</text>
<path d="M47.0 607.5799999999999h-3" stroke="#404040" stroke-width="1"/>
<text x="38.599999999999994" y="611.5799999999999" text-anchor="end" class="tk">30</text>
<path d="M47.0 569.64h-3" stroke="#404040" stroke-width="1"/>
<text x="38.599999999999994" y="573.64" text-anchor="end" class="tk">40</text>
<path d="M47.0 531.7h-3" stroke="#404040" stroke-width="1"/>
<text x="38.599999999999994" y="535.7" text-anchor="end" class="tk">50</text>
<text transform="translate(16.4 627.25) rotate(-90)" text-anchor="middle" class="al">glycerol, DHA (mM)</text>
<text x="178.7" y="762.0" text-anchor="middle" class="al" style="font-size:13.2px">time (h)</text>
<text x="296.5" y="558.2" text-anchor="middle" class="lt">C</text>
<polyline points="201.67,721.3 214.84,719.4 244.5,719.4 307.11,721.2" fill="none" stroke="#000" stroke-width="1.0" stroke-dasharray="5.8 2.2"/>
<circle cx="158.83" cy="721.3" r="2.55" fill="#000"/>
<circle cx="178.6" cy="721.3" r="2.55" fill="#000"/>
<circle cx="201.67" cy="721.3" r="2.55" fill="#000"/>
<circle cx="214.84" cy="719.4" r="2.55" fill="#000"/>
<circle cx="244.5" cy="719.4" r="2.55" fill="#000"/>
<circle cx="307.11" cy="721.3" r="2.55" fill="#000"/>
<rect x="212.59" y="717.15" width="4.50" height="4.50" fill="#000"/>
<rect x="242.50" y="717.40" width="4.00" height="4.00" fill="#000"/>
<polyline points="92.93,721.1 115.99,716.9 129.18,711.3 158.83,711.5 178.6,707.5 201.67,691 214.84,691.8 244.5,691 307.11,695.1" fill="none" stroke="#000" stroke-width="1.0"/>
<path d="M129.18 708.0V714.5999999999999M126.28 708.0H132.08M126.28 714.5999999999999H132.08" stroke="#000" stroke-width="0.9" fill="none"/>
<path d="M201.67 685.4V696.6M198.76999999999998 685.4H204.57M198.76999999999998 696.6H204.57" stroke="#000" stroke-width="0.9" fill="none"/>
<path d="M244.5 688V694M241.6 688H247.4M241.6 694H247.4" stroke="#000" stroke-width="0.9" fill="none"/>
<path d="M307.11 693.6V696.6M304.21000000000004 693.6H310.01M304.21000000000004 696.6H310.01" stroke="#000" stroke-width="0.9" fill="none"/>
<path d="M92.93 717.90L95.93 723.30H89.93Z" fill="#000"/>
<path d="M115.99 713.70L118.99 719.10H112.99Z" fill="#000"/>
<path d="M129.18 708.10L132.18 713.50H126.18Z" fill="#000"/>
<path d="M158.83 708.30L161.83 713.70H155.83Z" fill="#000"/>
<path d="M178.6 704.30L181.60 709.70H175.60Z" fill="#000"/>
<path d="M201.67 687.80L204.67 693.20H198.67Z" fill="#000"/>
<path d="M214.84 688.60L217.84 694.00H211.84Z" fill="#000"/>
<path d="M244.5 687.80L247.50 693.20H241.50Z" fill="#000"/>
<path d="M307.11 691.90L310.11 697.30H304.11Z" fill="#000"/>
<polyline points="92.93,721.1 115.99,721.1 129.18,721.1 158.83,711.9 178.6,710 201.67,713.3 214.84,708 244.5,711 307.11,709.3" fill="none" stroke="#000" stroke-width="1.0"/>
<path d="M92.93 718.50L95.43 722.90H90.43Z" fill="#fff" stroke="#000" stroke-width="0.95"/>
<path d="M115.99 718.50L118.49 722.90H113.49Z" fill="#fff" stroke="#000" stroke-width="0.95"/>
<path d="M129.18 718.50L131.68 722.90H126.68Z" fill="#fff" stroke="#000" stroke-width="0.95"/>
<path d="M158.83 709.30L161.33 713.70H156.33Z" fill="#fff" stroke="#000" stroke-width="0.95"/>
<path d="M178.6 707.40L181.10 711.80H176.10Z" fill="#fff" stroke="#000" stroke-width="0.95"/>
<path d="M201.67 710.70L204.17 715.10H199.17Z" fill="#fff" stroke="#000" stroke-width="0.95"/>
<path d="M214.84 705.40L217.34 709.80H212.34Z" fill="#fff" stroke="#000" stroke-width="0.95"/>
<path d="M244.5 708.40L247.00 712.80H242.00Z" fill="#fff" stroke="#000" stroke-width="0.95"/>
<path d="M307.11 706.70L309.61 711.10H304.61Z" fill="#fff" stroke="#000" stroke-width="0.95"/>
<polyline points="92.93,721.1 115.99,721.1 129.18,721.1 158.83,709.8 178.6,705.8 201.67,713.3 214.84,705.5 244.5,711 307.11,706.9" fill="none" stroke="#000" stroke-width="1.0"/>
<rect x="90.83" y="719.00" width="4.20" height="4.20" fill="#fff" stroke="#000" stroke-width="1"/>
<rect x="113.89" y="719.00" width="4.20" height="4.20" fill="#fff" stroke="#000" stroke-width="1"/>
<rect x="127.08" y="719.00" width="4.20" height="4.20" fill="#fff" stroke="#000" stroke-width="1"/>
<rect x="156.73" y="707.70" width="4.20" height="4.20" fill="#fff" stroke="#000" stroke-width="1"/>
<rect x="176.50" y="703.70" width="4.20" height="4.20" fill="#fff" stroke="#000" stroke-width="1"/>
<rect x="199.57" y="711.20" width="4.20" height="4.20" fill="#fff" stroke="#000" stroke-width="1"/>
<rect x="212.74" y="703.40" width="4.20" height="4.20" fill="#fff" stroke="#000" stroke-width="1"/>
<rect x="242.40" y="708.90" width="4.20" height="4.20" fill="#fff" stroke="#000" stroke-width="1"/>
<rect x="305.01" y="704.80" width="4.20" height="4.20" fill="#fff" stroke="#000" stroke-width="1"/>
<circle cx="66.57" cy="721.3" r="2.30" fill="#fff" stroke="#000" stroke-width="1.05"/>
<polyline points="92.93,721.1 115.99,706.3 129.18,703 158.83,650.3 178.6,624.1 201.67,610.3 214.84,601.5 244.5,607.4 307.11,609.4" fill="none" stroke="#000" stroke-width="1.0" stroke-dasharray="5.8 2.2"/>
<path d="M158.83 648.3V652.3M155.93 648.3H161.73000000000002M155.93 652.3H161.73000000000002" stroke="#000" stroke-width="0.9" fill="none"/>
<path d="M178.6 621.1V627.1M175.7 621.1H181.5M175.7 627.1H181.5" stroke="#000" stroke-width="0.9" fill="none"/>
<path d="M201.67 604.8V615.8M198.76999999999998 604.8H204.57M198.76999999999998 615.8H204.57" stroke="#000" stroke-width="0.9" fill="none"/>
<path d="M214.84 591.7V611.3M211.94 591.7H217.74M211.94 611.3H217.74" stroke="#000" stroke-width="0.9" fill="none"/>
<path d="M244.5 599.4V615.4M241.6 599.4H247.4M241.6 615.4H247.4" stroke="#000" stroke-width="0.9" fill="none"/>
<path d="M307.11 600.6V618.1999999999999M304.21000000000004 600.6H310.01M304.21000000000004 618.1999999999999H310.01" stroke="#000" stroke-width="0.9" fill="none"/>
<circle cx="92.93" cy="721.1" r="2.30" fill="#fff" stroke="#000" stroke-width="1.05"/>
<circle cx="115.99" cy="706.3" r="2.30" fill="#fff" stroke="#000" stroke-width="1.05"/>
<circle cx="129.18" cy="703" r="2.30" fill="#fff" stroke="#000" stroke-width="1.05"/>
<circle cx="158.83" cy="650.3" r="2.30" fill="#fff" stroke="#000" stroke-width="1.05"/>
<circle cx="178.6" cy="624.1" r="2.30" fill="#fff" stroke="#000" stroke-width="1.05"/>
<circle cx="201.67" cy="610.3" r="2.30" fill="#fff" stroke="#000" stroke-width="1.05"/>
<circle cx="214.84" cy="601.5" r="2.30" fill="#fff" stroke="#000" stroke-width="1.05"/>
<circle cx="244.5" cy="607.4" r="2.30" fill="#fff" stroke="#000" stroke-width="1.05"/>
<circle cx="307.11" cy="609.4" r="2.30" fill="#fff" stroke="#000" stroke-width="1.05"/>
<polyline points="92.93,721.1 115.99,695.7 129.18,664.4 158.83,630.7 178.6,608.4 201.67,579.8 214.84,570.4 244.5,561.3 307.11,569.9" fill="none" stroke="#000" stroke-width="1.0"/>
<path d="M115.99 691.7V699.7M113.08999999999999 691.7H118.89M113.08999999999999 699.7H118.89" stroke="#000" stroke-width="0.9" fill="none"/>
<path d="M129.18 658.4V670.4M126.28 658.4H132.08M126.28 670.4H132.08" stroke="#000" stroke-width="0.9" fill="none"/>
<path d="M158.83 625.7V635.7M155.93 625.7H161.73000000000002M155.93 635.7H161.73000000000002" stroke="#000" stroke-width="0.9" fill="none"/>
<path d="M178.6 606.4V610.4M175.7 606.4H181.5M175.7 610.4H181.5" stroke="#000" stroke-width="0.9" fill="none"/>
<path d="M201.67 577.8V581.8M198.76999999999998 577.8H204.57M198.76999999999998 581.8H204.57" stroke="#000" stroke-width="0.9" fill="none"/>
<path d="M214.84 569.4V571.4M211.94 569.4H217.74M211.94 571.4H217.74" stroke="#000" stroke-width="0.9" fill="none"/>
<path d="M244.5 559.8V562.8M241.6 559.8H247.4M241.6 562.8H247.4" stroke="#000" stroke-width="0.9" fill="none"/>
<path d="M307.11 566.4V573.4M304.21000000000004 566.4H310.01M304.21000000000004 573.4H310.01" stroke="#000" stroke-width="0.9" fill="none"/>
<rect x="90.43" y="718.60" width="5.00" height="5.00" fill="#000"/>
<rect x="113.49" y="693.20" width="5.00" height="5.00" fill="#000"/>
<rect x="126.68" y="661.90" width="5.00" height="5.00" fill="#000"/>
<rect x="156.33" y="628.20" width="5.00" height="5.00" fill="#000"/>
<rect x="176.10" y="605.90" width="5.00" height="5.00" fill="#000"/>
<rect x="199.17" y="577.30" width="5.00" height="5.00" fill="#000"/>
<rect x="212.34" y="567.90" width="5.00" height="5.00" fill="#000"/>
<rect x="242.00" y="558.80" width="5.00" height="5.00" fill="#000"/>
<rect x="304.61" y="567.40" width="5.00" height="5.00" fill="#000"/>
<rect x="90.83" y="719.00" width="4.20" height="4.20" fill="#fff" stroke="#000" stroke-width="1"/>
</svg>
</body></html>
